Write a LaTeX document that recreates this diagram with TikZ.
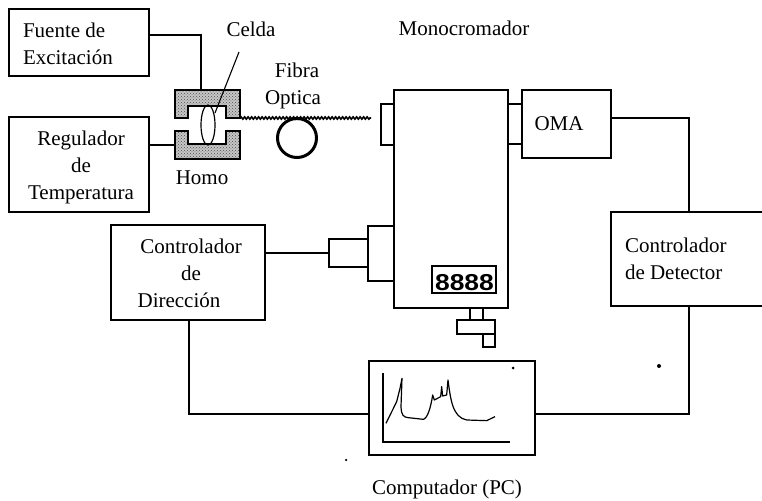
\documentclass[tikz,border=0pt]{standalone}
\usepackage{fontspec}
\setmainfont{Liberation Serif}
\newfontfamily\dispfont{Liberation Sans}
\usetikzlibrary{shapes.geometric,decorations.pathmorphing,patterns}
\tikzset{
  box/.style={draw=black,line width=2pt,fill=none,inner sep=0pt,outer sep=0pt,rectangle},
  conn/.style={draw=black,line width=2pt},
  lbl/.style={inner sep=0pt,outer sep=0pt,text=black,font=\fontsize{21}{27}\selectfont},
  heat/.style={draw=black,line width=1.2pt,preaction={fill=gray!45},pattern=crosshatch dots,pattern color=black!70},
  thin line/.style={draw=black,line width=1.1pt},
  speck/.style={circle,fill=black,inner sep=0pt,outer sep=0pt}
}
\begin{document}
\begin{tikzpicture}[x=1pt,y=-1pt]
\clip (0,0) rectangle (762,500);
% main boxes
\node[box,minimum width=140pt,minimum height=67pt] (fuente) at (79,42.5) {};
\node[box,minimum width=140pt,minimum height=95pt] (regul) at (79,164.5) {};
\node[box,minimum width=154pt,minimum height=95pt] (ctrl) at (188,272.5) {};
\node[box,minimum width=114pt,minimum height=218pt] (mono) at (451,199) {};
\node[box,minimum width=89pt,minimum height=68pt] (oma) at (566.5,124) {};
\node[box,minimum width=153pt,minimum height=94pt] (det) at (687.5,259) {};
\node[box,minimum width=166pt,minimum height=94pt] (pc) at (452,408) {};
% monochromator attachments
\node[box,minimum width=13pt,minimum height=41pt] (portL) at (387.5,124.5) {};
\node[box,minimum width=14pt,minimum height=40pt] (portR) at (515,124) {};
\node[box,minimum width=26pt,minimum height=55pt] (motorA) at (381,253.5) {};
\node[box,minimum width=39pt,minimum height=28pt] (motorB) at (348.5,253) {};
\node[box,minimum width=64pt,minimum height=27pt] (disp) at (464,279.5) {};
\node[inner sep=0pt,outer sep=0pt,font=\dispfont\bfseries\fontsize{23}{23}\selectfont] (dispText) at (464.5,283) {\scalebox{1.15}[1]{8888}};
\node[box,minimum width=13pt,minimum height=12pt] (knobA) at (476.5,314) {};
\node[box,minimum width=38pt,minimum height=14pt] (knobB) at (476,327) {};
\node[box,minimum width=12pt,minimum height=13pt] (knobC) at (489,340.5) {};
% furnace
\path[heat] (175,90) -- (240,90) -- (240,118) -- (226,118) -- (226,106) -- (188,106) -- (188,118) -- (175,118) -- cycle;
\path[heat] (175,131) -- (188,131) -- (188,144) -- (226,144) -- (226,131) -- (240,131) -- (240,159) -- (175,159) -- cycle;
\coordinate (hornoT) at (201,90);
\coordinate (hornoL) at (175,145);
\node[draw=black,line width=1.2pt,ellipse,minimum width=14pt,minimum height=40pt,inner sep=0pt,outer sep=0pt] (lens) at (208,125) {};
\coordinate (celdaA) at (239,52);
\coordinate (celdaB) at (215,113);
\draw[thin line] (celdaA) -- (celdaB);
% fibre
\coordinate (fibA) at (240,118);
\coordinate (fibB) at (371,118);
\draw[black,line width=1.6pt,decorate,decoration={snake,segment length=3.5pt,amplitude=1.1pt}] (fibA) -- (fibB);
\node[draw=black,line width=3pt,circle,minimum size=39pt,inner sep=0pt,outer sep=0pt] (ring) at (297,138) {};
% connectors
\draw[conn] ([yshift=7.5pt]fuente.east) -| (hornoT);
\draw[conn] ([yshift=19.5pt]regul.east) -- (hornoL);
\draw[conn] ([yshift=19.5pt]ctrl.east) -- (motorB.west);
\draw[conn] ([yshift=6pt]oma.east) -| ([xshift=1.5pt]det.north);
\draw[conn] ([xshift=1.5pt]det.south) |- ([yshift=-6pt]pc.east);
\draw[conn] ([xshift=1pt]ctrl.south) |- ([yshift=-6pt]pc.west);
% screen of the computer
\begin{scope}[shift={(340,340)},x=0.3333pt,y=-0.3333pt]
\draw[black,line width=2pt] (128,100) -- (128,307) -- (510,307);
\draw[black,line width=1.2pt,line join=round] (138,250) -- (170,185) -- (180,145) -- (186,115) -- (183,200) .. controls (184,225) and (190,232) .. (205,233) -- (250,238) .. controls (262,235) and (272,205) .. (278,165) -- (283,180) -- (302,170) -- (305,140) -- (308,168) -- (320,165) -- (324,120) .. controls (332,180) and (338,232) .. (380,240) -- (440,242) -- (465,230);
\end{scope}
% specks
\node[speck,minimum size=3pt] (s1) at (513,368) {};
\node[speck,minimum size=4pt] (s2) at (659,366) {};
\node[speck,minimum size=2.5pt] (s3) at (346,460) {};
% labels
\node[lbl,align=left,anchor=west] (tFuente) at (23,43.5) {Fuente de\\Excitación};
\node[lbl,align=center] (tRegul) at (81,167) {Regulador\\de\hspace*{22pt}\\Temperatura};
\node[lbl] (tHorno) at (202,178) {Homo};
\node[lbl] (tCelda) at (251,29) {Celda};
\node[lbl,align=center] (tFibra) at (295,86) {Fibra\hspace*{-4pt}\\Optica\hspace*{4pt}};
\node[lbl] (tMono) at (464,28) {Monocromador};
\node[lbl] (tOma) at (559,124) {OMA};
\node[lbl,align=center] (tCtrl) at (191,273.5) {Controlador\\de\hspace*{8pt}\\Dirección\hspace*{24pt}};
\node[lbl,align=left,anchor=west] (tDet) at (625,258.5) {Controlador\\de Detector};
\node[lbl] (tPc) at (447,489) {Computador (PC)};
\end{tikzpicture}
\end{document}
